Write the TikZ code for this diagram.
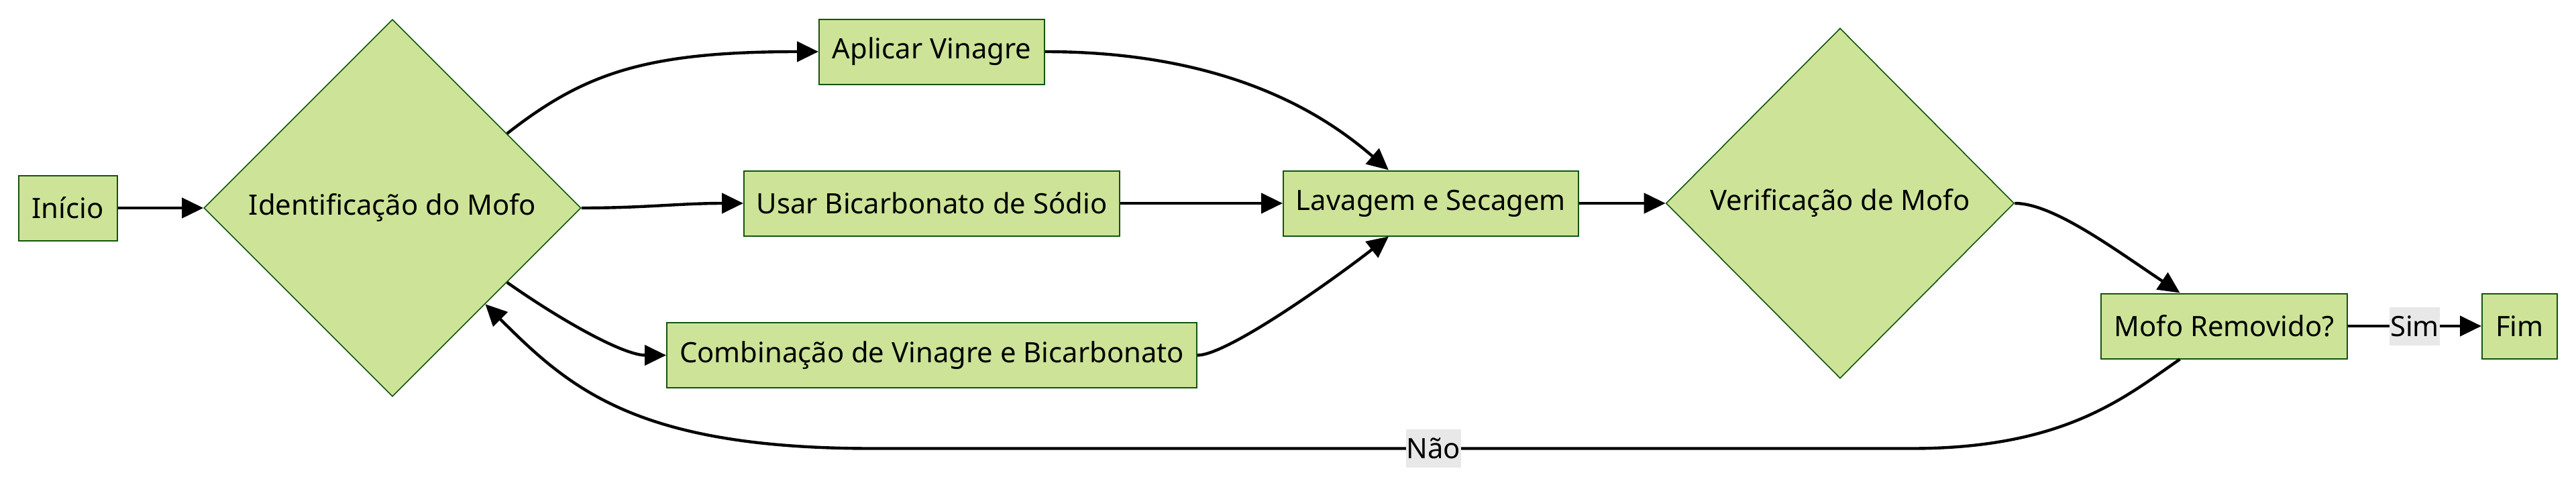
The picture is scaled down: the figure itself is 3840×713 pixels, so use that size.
\documentclass[tikz,border=0pt]{standalone}
\usepackage{fontspec}
\setmainfont{Noto Sans}
\usetikzlibrary{arrows.meta,shapes.geometric}
\definecolor{nodefill}{RGB}{205,228,152}
\definecolor{nodeline}{RGB}{19,84,12}
\definecolor{labelgray}{RGB}{232,232,232}

\begin{document}
\begin{tikzpicture}[x=0.5pt,y=-0.5pt,>={Triangle[length=16pt,width=15pt]},
  every node/.style={font=\fontsize{20.9pt}{24pt}\selectfont},
  stepbox/.style={draw=nodeline, fill=nodefill, line width=1pt, minimum height=48.5pt, inner sep=0pt},
  decision/.style={diamond, aspect=1, draw=nodeline, fill=nodefill, line width=0.8pt, inner sep=0pt},
  flow/.style={->, line width=2.2pt},
  lbl/.style={fill=labelgray, inner xsep=0.5pt, inner ysep=0pt, minimum height=28.5pt}]
  \useasboundingbox (0,0) rectangle (3840,713);
  % nodes
  \node[stepbox, minimum width=73.5pt] (inicio) at (101,310) {Início};
  \node[decision, minimum width=281pt, minimum height=281pt] (ident) at (585,310) {Identificação do Mofo};
  \node[stepbox, minimum width=168pt] (vinagre) at (1389,77) {Aplicar Vinagre};
  \node[stepbox, minimum width=280pt] (bicarb) at (1389,303) {Usar Bicarbonato de Sódio};
  \node[stepbox, minimum width=395pt] (combo) at (1389,529.5) {Combinação de Vinagre e Bicarbonato};
  \node[stepbox, minimum width=220pt] (lavagem) at (2133,303) {Lavagem e Secagem};
  \node[decision, minimum width=259.5pt, minimum height=261pt] (verif) at (2743,303) {Verificação de Mofo};
  \node[stepbox, minimum width=183.5pt] (removido) at (3315.5,486) {Mofo Removido?};
  \node[stepbox, minimum width=56pt] (fim) at (3756,486) {Fim};
  % connectors
  \draw[flow] (inicio) -- (ident);
  \draw[flow] (ident.33) .. controls (870,110) and (960,77) .. (vinagre.west);
  \draw[flow] (ident.east) to[out=0,in=180] (bicarb.west);
  \draw[flow] (ident.-33) .. controls (840,480) and (930,529.5) .. (combo.west);
  \draw[flow] (vinagre.east) .. controls (1850,77) and (1990,185) .. ([xshift=-31.5pt]lavagem.north);
  \draw[flow] (bicarb) -- (lavagem);
  \draw[flow] (combo.east) .. controls (1830,529.5) and (1990,415) .. ([xshift=-31.5pt]lavagem.south);
  \draw[flow] (lavagem) -- (verif);
  \draw[flow] (verif.east) .. controls (3060,303) and (3150,370) .. ([xshift=-33pt]removido.north);
  \draw[flow] (removido) -- node[lbl]{Sim} (fim);
  \draw[flow] ([xshift=-33pt]removido.south) .. controls (3170,590) and (3080,668.5) .. (2850,668.5)
    -- node[lbl, pos=0.46]{Não} (1300,668.5) .. controls (950,668.5) and (850,580) .. (ident.-46);
\end{tikzpicture}
\end{document}
